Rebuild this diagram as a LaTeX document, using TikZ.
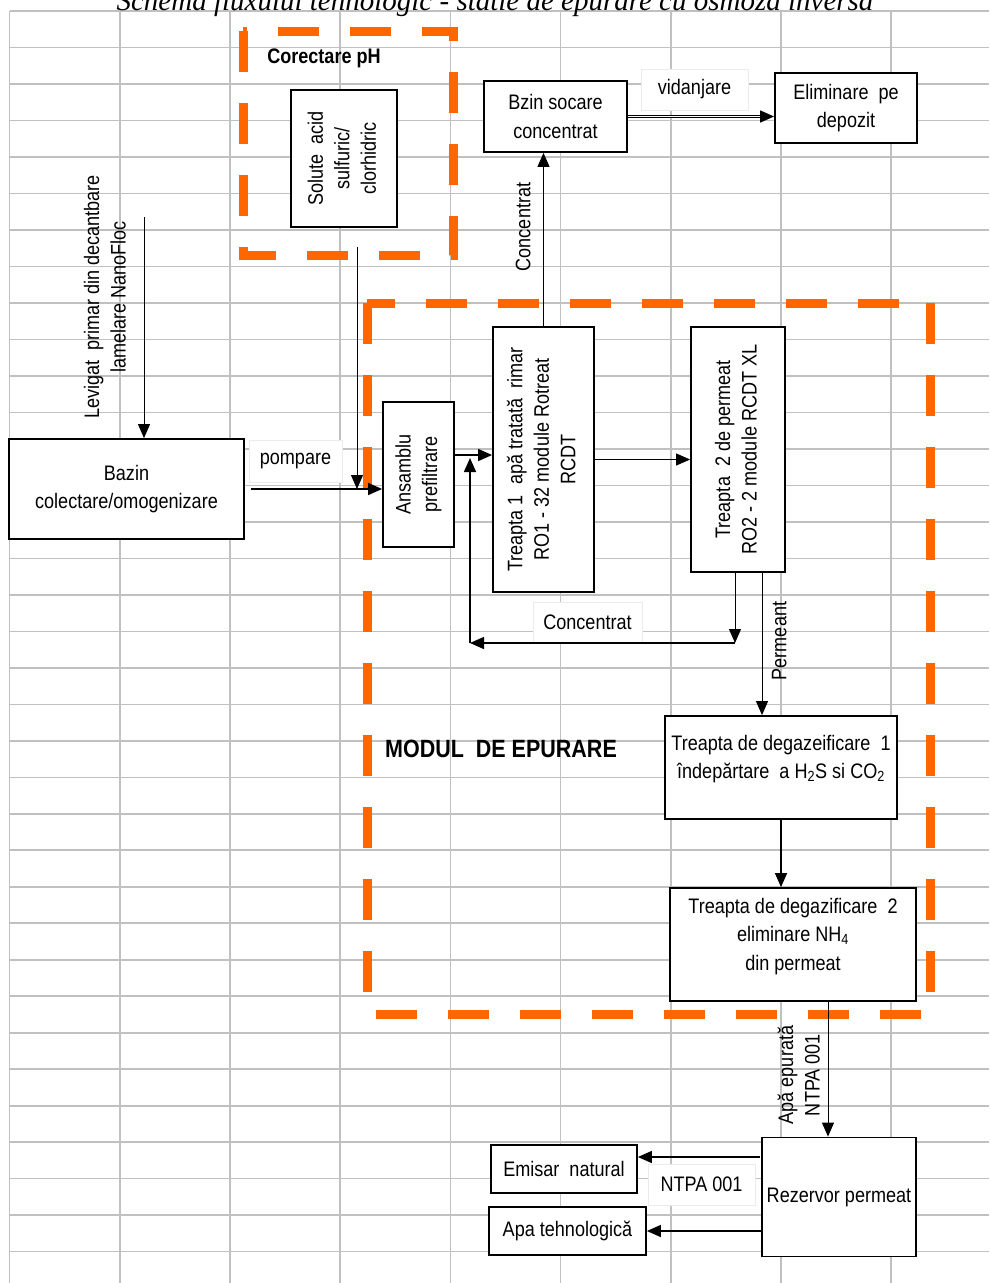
\documentclass[tikz,border=0pt]{standalone}
\usepackage{fontspec}
\setmainfont{Liberation Sans}[FakeStretch=0.86]
\newfontfamily\titlefont{Liberation Serif}
\usepackage{tikz}
\usetikzlibrary{arrows.meta,positioning}
\definecolor{zoneorange}{RGB}{255,102,0}
\definecolor{gridgray}{RGB}{192,192,192}
\newcommand{\diagfont}{\fontsize{21}{28.5}\selectfont}
\newcommand{\vlabel}[1]{\rotatebox{90}{\fontsize{21}{26.5}\selectfont\begin{tabular}{@{}c@{}}#1\end{tabular}}}
\tikzset{>={Triangle[length=14pt,width=12pt]}}
\tikzset{
  gridline/.style={draw=gridgray, line width=1.6pt},
  zone/.style={draw=zoneorange, line width=9pt, dash pattern=on 41pt off 31pt},
  box/.style={draw, line width=1.8pt, fill=white, inner sep=0pt, align=center},
  tag/.style={draw=black!8, line width=0.8pt, fill=white, inner sep=0pt},
  flow/.style={->, line width=1.5pt},
  thinflow/.style={->, line width=1pt},
}

\begin{document}
\begin{tikzpicture}[x=1pt,y=-1pt,font=\diagfont]
  \useasboundingbox (0,0) rectangle (989,1283);
  % grid of the sheet
  \foreach \i in {0,...,8}
    \draw[gridline] ({9.5+110.2*\i},11) -- ({9.5+110.2*\i},1283);
  \foreach \j in {0,...,34}
    \draw[gridline] (9.5,{11+36.49*\j}) -- (989,{11+36.49*\j});
  \node[anchor=base, font=\titlefont\itshape\fontsize{29}{29}\selectfont] (title) at (495,10)
    {Schema fluxului tehnologic - statie de epurare cu osmoza inversa};

  % dashed zones
  \draw[zone] (243,31) rectangle (453,255);
  \draw[zone] (367,303) rectangle (930,1014);
  \node[font=\fontsize{21}{24}\selectfont\bfseries] (phzone) at (324,58) {Corectare pH};
  \node[font=\fontsize{25}{28}\selectfont\bfseries] (modzone) at (501,749) {MODUL~~DE EPURARE};

  % boxes
  \node[box, minimum width=235pt, minimum height=100pt] (bazin) at (126.5,489)
    {Bazin\\colectare/omogenizare};
  \node[box, minimum width=106pt, minimum height=137pt] (acid) at (344,158.5)
    {\vlabel{Solute~~acid\\sulfuric/\\clorhidric}};
  \node[box, minimum width=71pt, minimum height=145pt] (prefilt) at (418.5,474.5)
    {\vlabel{Ansamblu\\prefiltrare}};
  \node[box, minimum width=101pt, minimum height=265pt] (t1) at (543.5,459.5)
    {\vlabel{Treapta 1~~apă tratată~~rimar\\RO1 - 32 module Rotreat\\RCDT}};
  \node[box, minimum width=94pt, minimum height=245pt] (t2) at (738,449.5)
    {\vlabel{Treapta~~2 de permeat\\RO2 - 2 module RCDT XL}};
  \node[box, minimum width=143pt, minimum height=71pt] (stocare) at (555.5,116.5)
    {Bzin socare\\concentrat};
  \node[box, minimum width=142pt, minimum height=70pt] (depozit) at (846,108)
    {Eliminare~~pe\\depozit};
  \node[box, minimum width=232pt, minimum height=103pt] (degaz1) at (781,767.5)
    {Treapta de degazeificare~~1\\îndepărtare~~a H\textsubscript{2}S si CO\textsubscript{2}\\[-16pt] \strut};
  \node[box, minimum width=246pt, minimum height=113pt] (degaz2) at (793,944.5)
    {Treapta de degazificare~~2\\eliminare NH\textsubscript{4}\\din permeat\\[-16pt] \strut};
  \node[box, minimum width=154pt, minimum height=119pt] (rezervor) at (839,1197)
    {Rezervor permeat};
  \node[box, minimum width=146pt, minimum height=48pt] (emisar) at (564,1169)
    {Emisar~~natural};
  \node[box, minimum width=157pt, minimum height=48pt] (tehn) at (567.5,1231)
    {Apa tehnologică};

  % labels
  \node[tag, minimum width=93pt, minimum height=42pt] (pompare) at (295.5,461) {pompare};
  \node[tag, minimum width=107pt, minimum height=41pt] (vidanjare) at (694.5,89.5) {vidanjare};
  \node[tag, minimum width=109pt, minimum height=40pt] (concret) at (587.5,622) {Concentrat};
  \node[tag, minimum width=107pt, minimum height=41pt] (ntpa) at (701.5,1184.5) {NTPA 001};
  \node (levigat) at (107,297) {\vlabel{Levigat~~primar din decantbare\\lamelare NanoFloc}};
  \node (concup) at (525,227) {\vlabel{Concentrat}};
  \node (permeant) at (781,641) {\vlabel{Permeant}};
  \node (epurata) at (801,1075) {\vlabel{Apă epurată\\NTPA 001}};

  % free ends
  \coordinate (levin) at (144,217);
  \coordinate (acidout) at (357,247);
  \coordinate (feed) at (470,458);
  \coordinate (ret) at (735,643);
  \coordinate (retleft) at (470,643);
  \coordinate (perm) at (762,572);
  \coordinate (outlet) at (828,1000);
  \coordinate (emout) at (760,1157);

  % connectors
  \draw[thinflow] (levin) -- (levin |- bazin.north);
  \draw[flow] ([xshift=6pt]bazin.east) -- (prefilt.west |- bazin.east);
  \draw[thinflow] (acidout) -- (acidout |- bazin.east);
  \draw[flow] (prefilt.east |- 0,455) -- (t1.west |- 0,455);
  \draw[thinflow] (t1.north) -- (t1.north |- stocare.south);
  \draw[->, line width=1.4pt, double, double distance=0.8pt] (stocare.east) -- (depozit.west |- stocare.east);
  \draw[thinflow] (t1.east) -- (t2.west |- t1.east);
  \draw[thinflow] (t2.south -| ret) -- (ret);
  \draw[flow] (ret) -- (retleft);
  \draw[flow] (retleft) -- (feed);
  \draw[thinflow] (perm) -- (perm |- degaz1.north);
  \draw[flow] (degaz1.south) -- (degaz1.south |- degaz2.north);
  \draw[thinflow] (outlet) -- (outlet |- rezervor.north);
  \draw[flow] (emout) -- (emisar.east |- emout);
  \draw[flow] (rezervor.west |- tehn.east) -- (tehn.east);
\end{tikzpicture}
\end{document}
